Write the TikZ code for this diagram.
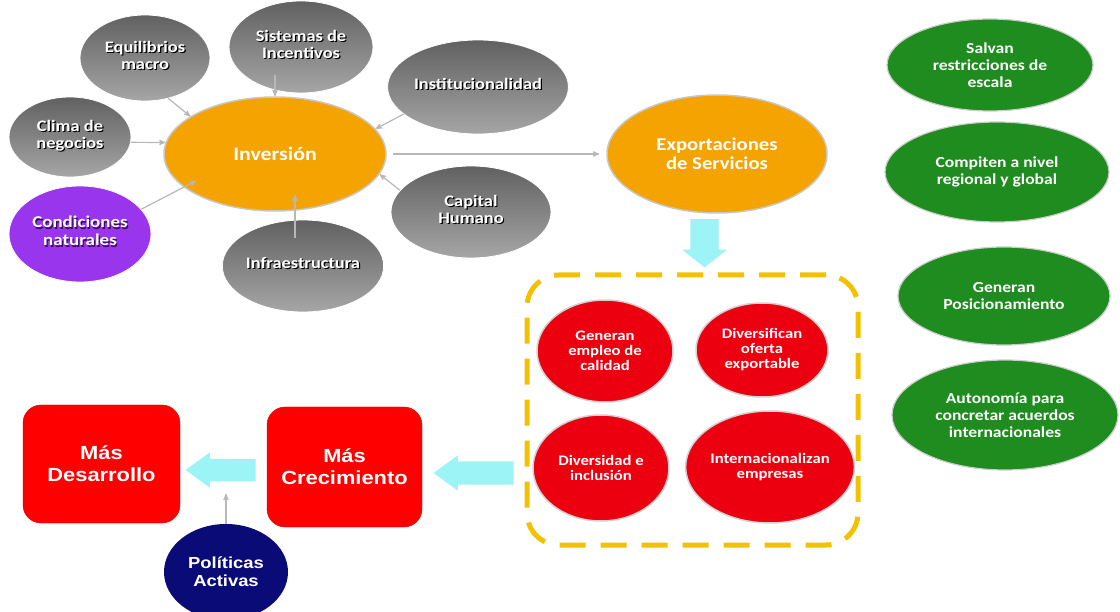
\documentclass[tikz,border=0pt]{standalone}
\usepackage{fontspec}
\usetikzlibrary{arrows,shapes,backgrounds,calc}

\newfontfamily\calibri[FakeStretch=1.15]{Carlito}
\newfontfamily\arial[FakeStretch=1.15]{Liberation Sans}

\definecolor{naranja}{HTML}{F5A300}
\definecolor{purpura}{HTML}{9A35EE}
\definecolor{purpuraosc}{HTML}{3A0866}
\definecolor{verdeosc}{HTML}{1E8C1E}
\definecolor{rojo}{HTML}{FF0000}
\definecolor{rojobola}{HTML}{EC0010}
\definecolor{marino}{HTML}{0B0B78}
\definecolor{cian}{HTML}{9CF4F6}
\definecolor{amarillo}{HTML}{F2C200}

% texto con sombra
\newcommand\sombra[2][black]{\leavevmode\rlap{\kern1.2pt\raisebox{-1.2pt}{\color{#1}\begin{tabular}{@{}c@{}}#2\end{tabular}}}\begin{tabular}{@{}c@{}}#2\end{tabular}}

\begin{document}
\begin{tikzpicture}[x=1pt, y=-1pt,
    gris/.style={ellipse, inner sep=0pt, top color=black!62, bottom color=black!35, draw=white, line width=0.8pt, text=white, font=\calibri\bfseries\fontsize{16}{17}\selectfont},
    naranjo/.style={ellipse, inner sep=0pt, fill=naranja, draw=black!22, line width=1.5pt, text=white, align=center, font=\calibri\bfseries\fontsize{18}{19}\selectfont},
    bola/.style={ellipse, inner sep=0pt, fill=rojobola, draw=black!18, line width=1.5pt, text=white, align=center, font=\calibri\bfseries\fontsize{14.5}{15}\selectfont},
    verde/.style={ellipse, inner sep=0pt, fill=verdeosc, draw=black!20, line width=1.2pt, text=white, align=center, font=\calibri\bfseries\fontsize{15.3}{17}\selectfont},
    caja/.style={rounded corners=18pt, fill=rojo, draw=rojo!85!black, inner sep=0pt, text=white, align=center, font=\arial\bfseries\fontsize{19}{22}\selectfont},
    bloque/.style={single arrow, fill=cian, single arrow tip angle=72, anchor=tip},
    conector/.style={draw=black!28, line width=1.2pt, ->, >=stealth'}
  ]
  \fill[white] (0,0) rectangle (1120,612);
  \useasboundingbox (0,0) rectangle (1120,612);

  % Factores de la inversion
  \foreach \nombre/\cx/\cy/\an/\al/\texto in {
      equi/145/58/130/86/{Equilibrios\\macro},
      sis/301/47/144/92/{Sistemas de\\Incentivos},
      inst/478/87/162/94/{Institucionalidad},
      clima/70/137/122/80/{Clima de\\negocios},
      cap/471/212/160/92/{Capital\\Humano},
      infra/303/266/156/92/{Infraestructura}}
    \node[gris, minimum width=\an pt, minimum height=\al pt] (\nombre) at (\cx,\cy) {\sombra{\texto}};
  \node[gris, fill=purpura, top color=purpura, bottom color=purpura, font=\calibri\bfseries\fontsize{16.5}{18}\selectfont,
    minimum width=142pt, minimum height=96pt] (cond) at (80,234) {\sombra[purpuraosc]{Condiciones\\naturales}};

  \node[naranjo, minimum width=222pt, minimum height=114pt, font=\calibri\bfseries\fontsize{19}{20}\selectfont] (inv) at (275,154) {Inversión};
  \node[naranjo, minimum width=220pt, minimum height=118pt] (exp) at (717,154) {Exportaciones\\de Servicios};

  % Efectos
  \node[draw=amarillo, line width=5pt, dash pattern=on 26pt off 15pt, rounded corners=32pt,
    minimum width=331pt, minimum height=270pt] (marco) at (692.5,410) {};
  \foreach \nombre/\cx/\cy/\an/\al/\texto in {
      r1/605/351/136/102/{Generan\\empleo de\\calidad},
      r2/762/350/132/94/{Diversifican\\oferta\\exportable},
      r3/601/468/136/106/{Diversidad e\\inclusión},
      r4/770/467/156/112/{Internacionalizan\\empresas}}
    \node[bola, minimum width=\an pt, minimum height=\al pt] (\nombre) at (\cx,\cy) {\texto};

  \foreach \nombre/\cx/\cy/\an/\al/\texto in {
      v1/990/65/206/92/{Salvan\\restricciones de\\escala},
      v2/997/172/224/100/{Compiten a nivel\\regional y global},
      v3/1004/296/212/98/{Generan\\Posicionamiento},
      v4/1005/415/226/110/{Autonomía para\\concretar acuerdos\\internacionales}}
    \node[verde, minimum width=\an pt, minimum height=\al pt] (\nombre) at (\cx,\cy) {\texto};

  % Resultados
  \node[caja, minimum width=157pt, minimum height=118pt] (des) at (101.5,464) {Más\\Desarrollo};
  \node[caja, minimum width=155pt, minimum height=120pt] (crec) at (344.5,467) {Más\\Crecimiento};
  \node[ellipse, fill=marino, inner sep=0pt, text=white, align=center, font=\arial\bfseries\fontsize{16}{18}\selectfont,
    minimum width=124pt, minimum height=96pt] (pol) at (226,572) {Políticas\\Activas};

  % Flechas
  \node[bloque, shape border rotate=180, inner sep=11pt, minimum height=70pt, single arrow head extend=6.5pt]
    (f1) at ([xshift=5pt,yshift=-6pt]des.east) {};
  \node[bloque, shape border rotate=180, inner sep=11.5pt, minimum height=80pt, single arrow head extend=6pt]
    (f2) at ([xshift=11pt,yshift=-6pt]crec.east) {};
  \node[bloque, shape border rotate=270, inner sep=14pt, minimum height=48pt, single arrow head extend=8.5pt, single arrow tip angle=104]
    (f3) at ([xshift=12pt,yshift=5pt]marco.north) {};

  \draw[conector] (equi.-60) -- (inv.156);
  \draw[conector] ([yshift=18pt]sis.south -| inv.north) -- (inv.north);
  \draw[conector] (inst.200) -- (inv.14);
  \draw[conector] (clima.-5) -- (inv.174);
  \draw[conector, shorten >=-14pt] (cond.22) -- (inv.200);
  \draw[conector] (cap.163) -- (inv.-11);
  \draw[conector] ([xshift=-8pt,yshift=-18pt]infra.north) -- ([xshift=-8pt,yshift=17pt]infra.north |- inv.south);
  \draw[conector, shorten <=6pt, shorten >=7pt] (inv.east) -- (exp.west);
  \draw[conector] (pol.north) -- ([yshift=30pt]pol.north);
\end{tikzpicture}
\end{document}
